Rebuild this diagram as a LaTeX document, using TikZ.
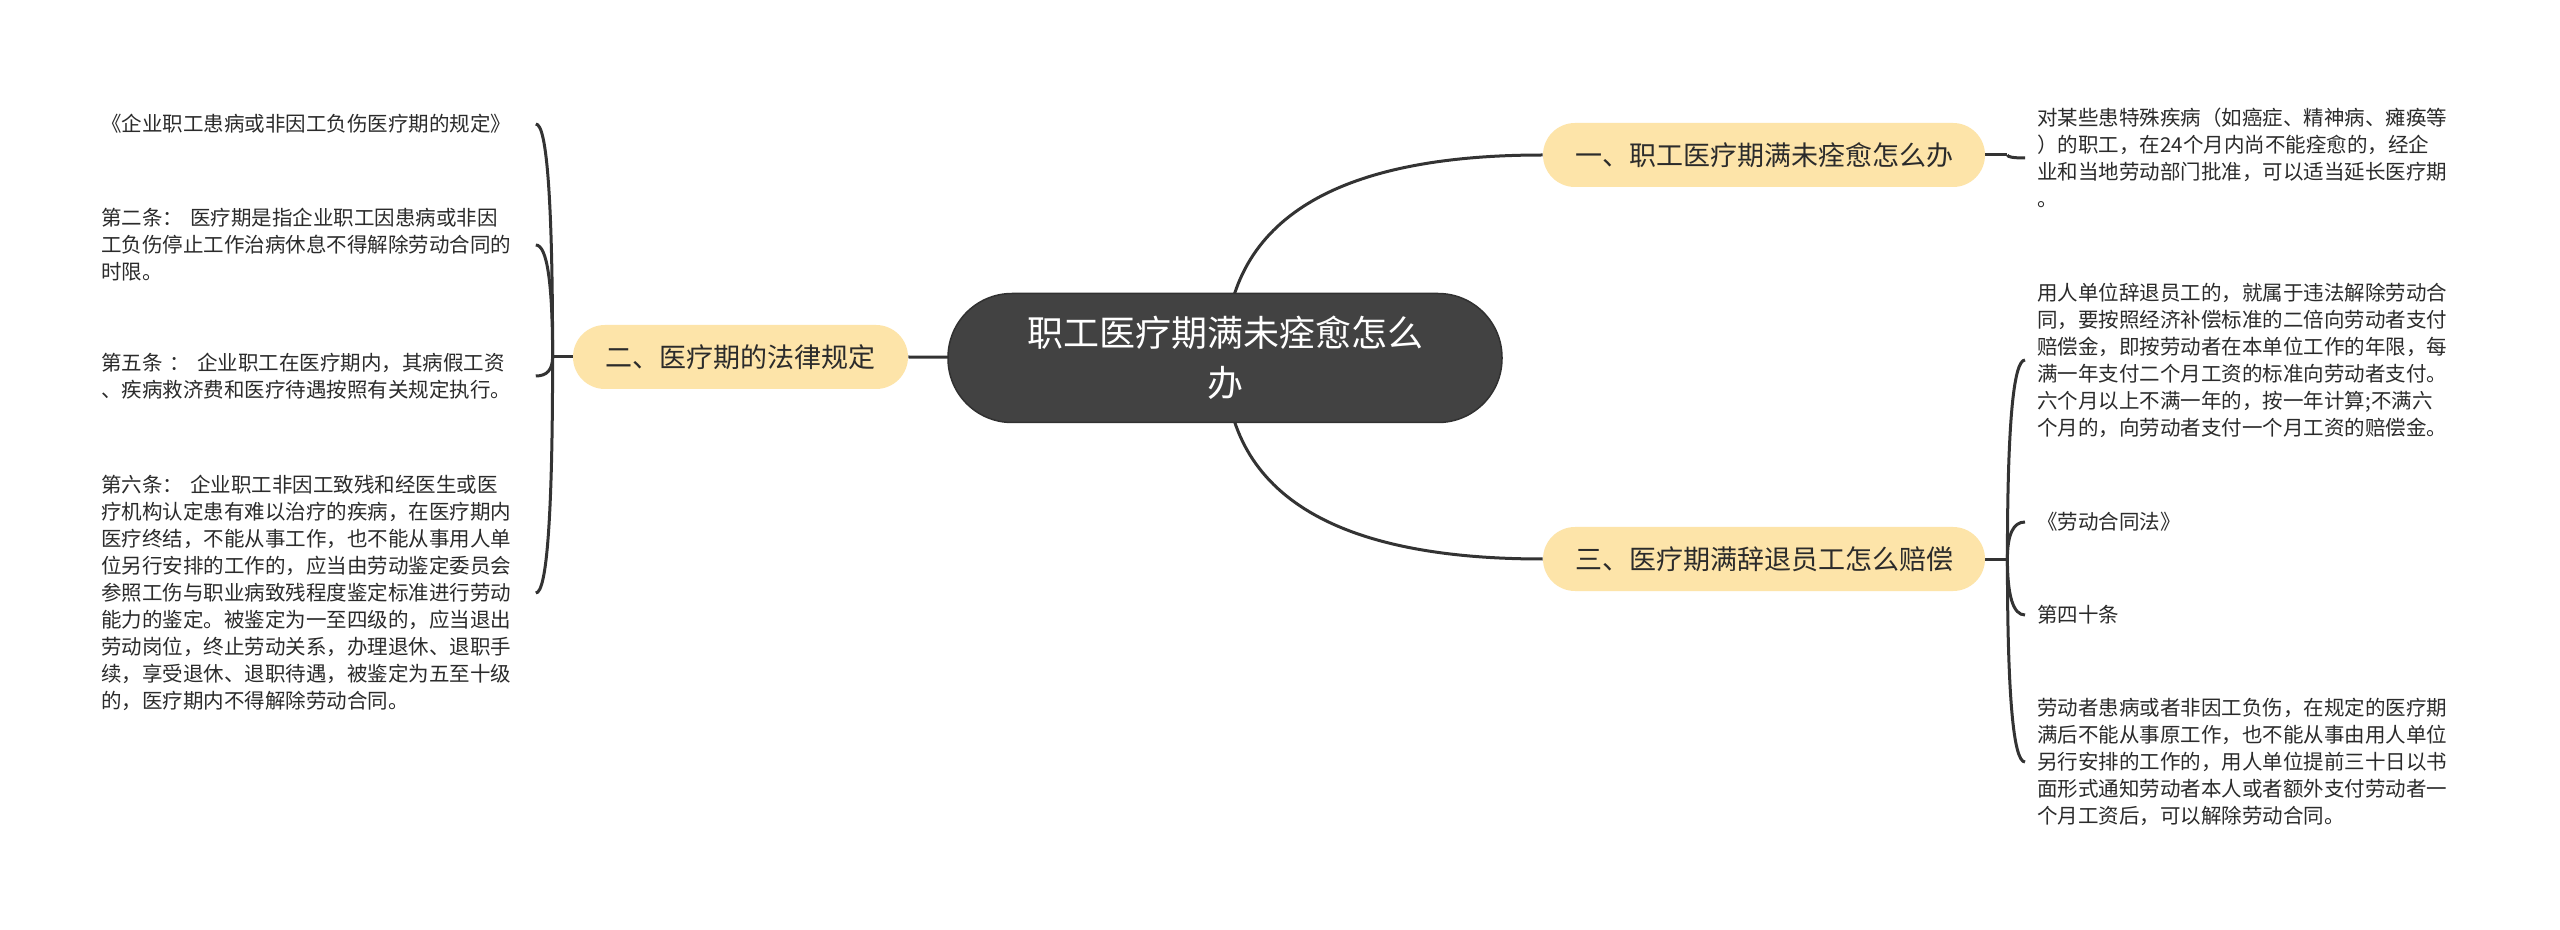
\documentclass[tikz,border=0pt]{standalone}
\usepackage{fontspec}
\setmainfont{Noto Sans CJK SC}
\usetikzlibrary{calc,backgrounds}
\definecolor{linec}{HTML}{333333}
\definecolor{branchfill}{HTML}{FDE4A9}
\definecolor{rootfill}{HTML}{424242}
\definecolor{txt}{HTML}{2B2B2B}
\tikzset{
  rootnode/.style={draw=rootfill!75!black, line width=0.75pt, fill=rootfill, text=white,
    rounded corners=32pt, minimum width=277pt, minimum height=64.5pt, align=center,
    font=\fontsize{18pt}{25pt}\selectfont, inner sep=0pt},
  branchnode/.style={fill=branchfill, text=txt, rounded corners=16pt, minimum height=32pt,
    inner sep=0pt, font=\fontsize{13.5pt}{16pt}\selectfont},
  leafL/.style={anchor=west, text width=217pt, align=left, inner sep=0pt, text=txt,
    font=\fontsize{10.25pt}{13.5pt}\selectfont},
  leafR/.style={anchor=west, align=left, inner xsep=6pt, inner ysep=0pt, text=txt,
    font=\fontsize{10.25pt}{13.5pt}\selectfont},
  conn/.style={draw=linec, line width=1.5pt},
}
\newcommand{\mmlink}[2]{\draw[conn] (#1) .. controls ($(#1)!2/3!(#1|-#2)$) and ($(#2)!2/3!(#1|-#2)$) .. (#2);}
\begin{document}
\begin{tikzpicture}[x=0.5pt,y=-0.5pt]
\useasboundingbox (0,0) rectangle (2560,930);
% root
\node[rootnode] (root) at (1225,358) {职工医疗期满未痊愈怎么\\办};
% branches
\node[branchnode, minimum width=221pt] (b1) at (1764,155) {一、职工医疗期满未痊愈怎么办};
\node[branchnode, minimum width=167.5pt] (b2) at (740.5,357) {二、医疗期的法律规定};
\node[branchnode, minimum width=221pt] (b3) at (1764,559) {三、医疗期满辞退员工怎么赔偿};
% left leaves
\node[leafL] (l1) at (101,124) {《企业职工患病或非因工负伤医疗期的规定》};
\node[leafL] (l2) at (101,245) {第二条： 医疗期是指企业职工因患病或非因\\工负伤停止工作治病休息不得解除劳动合同的\\时限。};
\node[leafL] (l3) at (101,376) {第五条 ： 企业职工在医疗期内，其病假工资\\、疾病救济费和医疗待遇按照有关规定执行。};
\node[leafL] (l4) at (101,593) {第六条： 企业职工非因工致残和经医生或医\\疗机构认定患有难以治疗的疾病，在医疗期内\\医疗终结，不能从事工作，也不能从事用人单\\位另行安排的工作的，应当由劳动鉴定委员会\\参照工伤与职业病致残程度鉴定标准进行劳动\\能力的鉴定。被鉴定为一至四级的，应当退出\\劳动岗位，终止劳动关系，办理退休、退职手\\续，享受退休、退职待遇，被鉴定为五至十级\\的，医疗期内不得解除劳动合同。};
% right leaves
\node[leafR] (r1) at (2025,158) {对某些患特殊疾病（如癌症、精神病、瘫痪等\\）的职工，在24个月内尚不能痊愈的，经企\\业和当地劳动部门批准，可以适当延长医疗期\\。};
\node[leafR] (r2) at (2025,360) {用人单位辞退员工的，就属于违法解除劳动合\\同，要按照经济补偿标准的二倍向劳动者支付\\赔偿金，即按劳动者在本单位工作的年限，每\\满一年支付二个月工资的标准向劳动者支付。\\六个月以上不满一年的，按一年计算;不满六\\个月的，向劳动者支付一个月工资的赔偿金。};
\node[leafR] (r3) at (2025,522) {《劳动合同法》};
\node[leafR] (r4) at (2025,615) {第四十条};
\node[leafR] (r5) at (2025,762) {劳动者患病或者非因工负伤，在规定的医疗期\\满后不能从事原工作，也不能从事由用人单位\\另行安排的工作的，用人单位提前三十日以书\\面形式通知劳动者本人或者额外支付劳动者一\\个月工资后，可以解除劳动合同。};
% spine points
\coordinate (sL) at ($(b2.west)+(-20,0)$);
\coordinate (sR1) at ($(b1.east)+(22,0)$);
\coordinate (sR3) at ($(b3.east)+(22,0)$);
\begin{pgfonlayer}{background}
\fill[white] (0,0) rectangle (2560,930);
\draw[conn] (root.center) -- (b2.east);
\mmlink{root.center}{b1.west}
\mmlink{root.center}{b3.west}
\draw[conn] (b2.west) -- (sL);
\mmlink{sL}{l1.east}
\mmlink{sL}{l2.east}
\mmlink{sL}{l3.east}
\mmlink{sL}{l4.east}
\draw[conn] (b1.east) -- (sR1);
\mmlink{sR1}{r1.west}
\draw[conn] (b3.east) -- (sR3);
\mmlink{sR3}{r2.west}
\mmlink{sR3}{r3.west}
\mmlink{sR3}{r4.west}
\mmlink{sR3}{r5.west}
\end{pgfonlayer}
\end{tikzpicture}
\end{document}
